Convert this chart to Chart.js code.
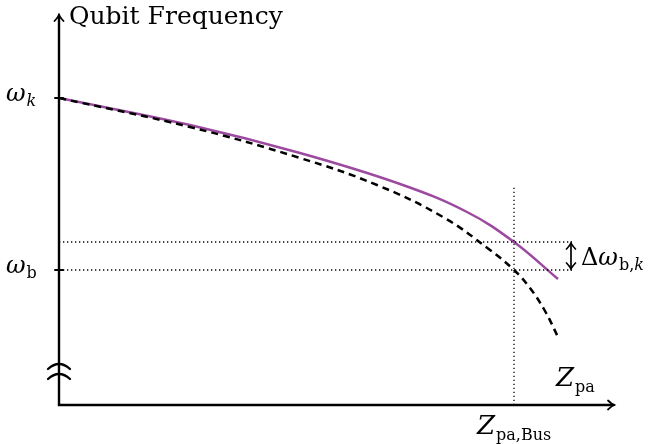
<!DOCTYPE html>
<html>
<head>
<meta charset="utf-8">
<script src="https://cdn.jsdelivr.net/npm/chart.js@4"></script>
<style>
  html, body { margin: 0; padding: 0; background: #fff; }
  #wrap { width: 656px; height: 444px; }
</style>
</head>
<body>
<div id="wrap"><canvas id="myChart" width="656" height="444"></canvas></div>
<script>
// curves, in plot units (x: Z_pa, y: qubit frequency)
const coupledX = [0, 131, 241, 341, 408, 455, 499];
const coupledY = [307, 280, 252, 221, 193, 163, 126];
const bareX = [0, 131, 241, 318, 384, 431, 455, 471, 486, 499];
const bareY = [307, 278, 247, 220, 188, 155, 135, 117, 94, 68];

// marked levels
const omegaK = 307;
const omegaB = 135;
const omegaBk = 163;
const zBus = 455;
const xMax = 555;
const yMax = 390;

const purple = '#9b4aa0';
const serif = '"DejaVu Serif", serif';

const pts = (xs, ys) => xs.map((x, i) => ({ x: x, y: ys[i] }));

// helper: write a symbol with a subscript
const drawSub = (ctx, x, y, main, mainFont, subs, drop) => {
  ctx.font = mainFont;
  ctx.fillText(main, x, y);
  let cx = x + ctx.measureText(main).width + 1;
  subs.forEach(s => {
    ctx.font = s.font;
    ctx.fillText(s.t, cx, y + (drop || 5));
    cx += ctx.measureText(s.t).width;
  });
};

const arrowHead = (ctx, tx, ty, dx, dy) => {
  // dx,dy = unit direction of the arrow
  const px = -dy, py = dx;
  const L = 6, W = 4.5;
  ctx.beginPath();
  ctx.moveTo(tx - dx * L + px * W, ty - dy * L + py * W);
  ctx.quadraticCurveTo(tx - dx * 2 + px * 0.8, ty - dy * 2 + py * 0.8, tx, ty);
  ctx.quadraticCurveTo(tx - dx * 2 - px * 0.8, ty - dy * 2 - py * 0.8, tx - dx * L - px * W, ty - dy * L - py * W);
  ctx.stroke();
};

const decorations = {
  id: 'decorations',
  afterDraw(chart) {
    const ctx = chart.ctx;
    const xs = chart.scales.x, ys = chart.scales.y;
    const x0 = xs.getPixelForValue(0), x1 = xs.getPixelForValue(xMax);
    const y0 = ys.getPixelForValue(0), y1 = ys.getPixelForValue(yMax);
    ctx.save();
    ctx.strokeStyle = '#000';
    ctx.fillStyle = '#000';
    ctx.lineCap = 'round';

    // axes
    ctx.lineWidth = 2.4;
    ctx.beginPath();
    ctx.moveTo(x0, y1);
    ctx.lineTo(x0, y0);
    ctx.lineTo(x1, y0);
    ctx.stroke();
    ctx.lineWidth = 1.8;
    arrowHead(ctx, x0, y1, 0, -1);
    arrowHead(ctx, x1, y0, 1, 0);

    // ticks
    ctx.lineWidth = 2;
    [omegaK, omegaB].forEach(v => {
      const yy = ys.getPixelForValue(v);
      ctx.beginPath();
      ctx.moveTo(x0 - 4, yy);
      ctx.lineTo(x0 + 4, yy);
      ctx.stroke();
    });

    // axis break
    ctx.lineWidth = 2.3;
    [365, 375].forEach(yy => {
      ctx.beginPath();
      ctx.moveTo(x0 - 11, yy + 4);
      ctx.quadraticCurveTo(x0, yy - 6, x0 + 11, yy + 4);
      ctx.stroke();
    });

    // delta arrow
    const ya = ys.getPixelForValue(omegaBk), yb = ys.getPixelForValue(omegaB);
    const xa = 571;
    ctx.lineWidth = 1.7;
    ctx.beginPath();
    ctx.moveTo(xa, ya + 1);
    ctx.lineTo(xa, yb - 1);
    ctx.stroke();
    arrowHead(ctx, xa, ya + 1, 0, -1);
    arrowHead(ctx, xa, yb - 1, 0, 1);

    // labels
    ctx.textBaseline = 'alphabetic';
    ctx.textAlign = 'left';
    ctx.font = '25px ' + serif;
    ctx.fillText('Qubit Frequency', 69, 24);

    const big = 'italic 24px ' + serif;
    const bigZ = 'italic 26px ' + serif;
    const subR = '16px ' + serif;
    const subI = 'italic 16px ' + serif;
    drawSub(ctx, 6, ys.getPixelForValue(omegaK) + 3, 'ω', big, [{ t: 'k', font: subI }]);
    drawSub(ctx, 6, ys.getPixelForValue(omegaB) + 3, 'ω', big, [{ t: 'b', font: subR }]);
    ctx.font = '24px ' + serif;
    ctx.fillText('Δ', 581, 265);
    const dw = ctx.measureText('Δ').width;
    drawSub(ctx, 581 + dw, 265, 'ω', big, [{ t: 'b', font: subR }, { t: ',', font: subR }, { t: 'k', font: subI }]);
    drawSub(ctx, 556, 386, 'Z', bigZ, [{ t: 'pa', font: subR }], 6);
    drawSub(ctx, 477, 434, 'Z', bigZ, [{ t: 'pa,Bus', font: subR }], 6);
    ctx.restore();
  }
};

const ctx = document.getElementById('myChart').getContext('2d');

const dotted = { borderColor: '#000', borderWidth: 1.3, borderDash: [1.3, 2.7], pointRadius: 0, fill: false, tension: 0 };

const myChart = new Chart(ctx, {
  type: 'line',
  data: {
    datasets: [
      Object.assign({ data: [{ x: 0, y: omegaBk }, { x: 513, y: omegaBk }] }, dotted),
      Object.assign({ data: [{ x: 0, y: omegaB }, { x: 513, y: omegaB }] }, dotted),
      Object.assign({ data: [{ x: zBus, y: 0 }, { x: zBus, y: 220 }] }, dotted),
      {
        label: 'bare',
        data: pts(bareX, bareY),
        borderColor: '#000',
        borderWidth: 2.5,
        borderDash: [7, 5],
        pointRadius: 0,
        tension: 0.4,
        fill: false
      },
      {
        label: 'coupled',
        data: pts(coupledX, coupledY),
        borderColor: purple,
        borderWidth: 2.5,
        pointRadius: 0,
        tension: 0.4,
        fill: false
      }
    ]
  },
  options: {
    responsive: false,
    animation: false,
    layout: { padding: { left: 59, right: 42, top: 15, bottom: 39 } },
    plugins: { legend: { display: false }, tooltip: { enabled: false } },
    scales: {
      x: { type: 'linear', min: 0, max: xMax, display: false },
      y: { type: 'linear', min: 0, max: yMax, display: false }
    }
  },
  plugins: [decorations]
});
</script>
</body>
</html>
